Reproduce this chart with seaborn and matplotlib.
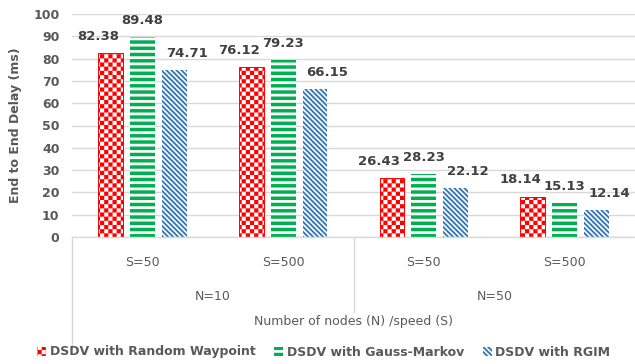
import numpy as np
import pandas as pd
import matplotlib
matplotlib.use("Agg")
import matplotlib.pyplot as plt
import matplotlib.hatch as mhatch
from matplotlib.path import Path
from matplotlib.patches import Patch
from matplotlib.transforms import blended_transform_factory
import seaborn as sns

# ---- data ----
node_groups = ["N=10", "N=50"]
speed_labels = ["S=50", "S=500", "S=50", "S=500"]
models = ["DSDV with Random Waypoint", "DSDV with Gauss-Markov", "DSDV with RGIM"]
random_waypoint = [82.38, 76.12, 26.43, 18.14]
gauss_markov = [89.48, 79.23, 28.23, 15.13]
rgim = [74.71, 66.15, 22.12, 12.14]

colors = ["#FF0000", "#00B050", "#2E75B6"]
TEXT = "#595959"
VALUE_TEXT = "#404040"
GRID = "#D9D9D9"


def _square(vertices, codes, k, pts):
    vertices[5 * k:5 * k + 5] = pts + [pts[0]]
    codes[5 * k] = Path.MOVETO
    codes[5 * k + 1:5 * k + 4] = Path.LINETO
    codes[5 * k + 4] = Path.CLOSEPOLY


# ---- filled hatch patterns (checkerboard, horizontal bands, diagonal bands) ----
class CheckerHatch:
    def __init__(self, hatch, density):
        self.n = 24 * hatch.count("O")
        self.cells = [(i, j) for i in range(self.n) for j in range(self.n)
                      if (i + j) % 2 == 0]
        self.num_vertices = 5 * len(self.cells)

    def set_vertices_and_codes(self, vertices, codes):
        s = 1.0 / self.n
        for k, (i, j) in enumerate(self.cells):
            x0, y0 = i * s, j * s
            _square(vertices, codes, k,
                    [(x0, y0), (x0 + s, y0), (x0 + s, y0 + s), (x0, y0 + s)])


class BandHatch:
    def __init__(self, hatch, density):
        self.n = 16 * hatch.count("o")
        self.num_vertices = 5 * self.n

    def set_vertices_and_codes(self, vertices, codes):
        p = 1.0 / self.n
        h = 0.55 * p
        for k in range(self.n):
            y0 = k * p
            _square(vertices, codes, k, [(0, y0), (1, y0), (1, y0 + h), (0, y0 + h)])


class DiagonalBandHatch:
    def __init__(self, hatch, density):
        self.n = 20 * hatch.count("*")
        self.ks = list(range(-self.n - 2, 3 * self.n + 3)) if self.n else []
        self.num_vertices = 5 * len(self.ks)

    def set_vertices_and_codes(self, vertices, codes):
        p = 1.0 / self.n
        w = 0.5 * p
        x0, x1 = -1.0, 2.0
        for m, k in enumerate(self.ks):
            c = k * p
            _square(vertices, codes, m,
                    [(x0, c - x0), (x1, c - x1), (x1, c + w - x1), (x0, c + w - x0)])


mhatch._hatch_types = [mhatch.HorizontalHatch, mhatch.VerticalHatch,
                       mhatch.NorthEastHatch, mhatch.SouthEastHatch,
                       CheckerHatch, BandHatch, DiagonalBandHatch]
hatches = ["O", "o", "*"]

# ---- figure ----
sns.set_theme(style="white")
plt.rcParams["font.family"] = ["DejaVu Sans"]
plt.rcParams["hatch.linewidth"] = 0.05

fig = plt.figure(figsize=(6.35, 3.64), dpi=100)
ax = fig.add_axes([72 / 635, 1 - 237 / 364, 1 - 72 / 635, (237 - 14) / 364])

keys = [f"{n} {s}" for n in node_groups for s in speed_labels[:2]]
df = pd.DataFrame({
    "group": keys * 3,
    "model": np.repeat(models, 4),
    "delay": random_waypoint + gauss_markov + rgim,
})

sns.barplot(data=df, x="group", y="delay", hue="model", order=keys,
            hue_order=models, palette=colors, width=0.68, gap=0.22,
            ax=ax, legend=False, saturation=1)

label_dx = [-9, 0, 9]  # horizontal nudge of value labels, in points
for cont, col, hat, dx in zip(ax.containers, colors, hatches, label_dx):
    for bar in cont:
        bar.set_facecolor("white")
        bar.set_edgecolor(col)
        bar.set_hatch(hat)
        bar.set_linewidth(0.7 if hat == "O" else 0)
    for bar, val in zip(cont, cont.datavalues):
        ax.annotate(f"{val:.2f}", xy=(bar.get_x() + bar.get_width() / 2, val),
                    xytext=(dx, 12), textcoords="offset points",
                    ha="center", va="center", fontsize=9.5, fontweight="bold",
                    color=VALUE_TEXT, annotation_clip=False)

# ---- axes styling ----
ax.set_ylim(0, 100)
ax.set_xlim(-0.5, 3.5)
ax.set_yticks(np.arange(0, 101, 10))
ax.yaxis.grid(True, color=GRID, linewidth=1.0)
ax.set_axisbelow(True)
for side in ["left", "right", "top"]:
    ax.spines[side].set_visible(False)
ax.spines["bottom"].set_color(GRID)
ax.spines["bottom"].set_linewidth(1.0)
ax.tick_params(axis="y", length=0, pad=9, labelsize=9, labelcolor=TEXT)
for t in ax.get_yticklabels():
    t.set_fontweight("bold")
ax.set_xticks(range(len(speed_labels)))
ax.set_xticklabels(speed_labels)
ax.tick_params(axis="x", length=0, pad=14, labelsize=9, labelcolor=TEXT)
ax.set_xlabel("")
ax.set_ylabel("End to End Delay (ms)", fontsize=9, fontweight="bold",
              color=TEXT, labelpad=8)

# multi-level category axis
tr = blended_transform_factory(ax.transData, fig.transFigure)
ax.plot([-0.5, -0.5], [1 - 237 / 364, 1 - 348 / 364], transform=tr,
        color=GRID, lw=1.0, clip_on=False)
ax.plot([1.5, 1.5], [1 - 237 / 364, 1 - 312 / 364], transform=tr,
        color=GRID, lw=1.0, clip_on=False)
for i, name in enumerate(node_groups):
    ax.text(2 * i + 0.5, 1 - 297 / 364, name, transform=tr, ha="center",
            va="center", fontsize=9, color=TEXT)
ax.text(0.5, 1 - 322 / 364, "Number of nodes (N) /speed (S)",
        transform=blended_transform_factory(ax.transAxes, fig.transFigure),
        ha="center", va="center", fontsize=9, color=TEXT)

# legend
handles = [Patch(facecolor="white", edgecolor=c, hatch=h, linewidth=0)
           for c, h in zip(colors, hatches)]
leg = fig.legend(handles, models, loc="center", bbox_to_anchor=(0.51, 1 - 352 / 364),
                 ncol=3, frameon=False, fontsize=9, handlelength=0.7,
                 handleheight=0.7, handletextpad=0.3, columnspacing=1.5,
                 borderaxespad=0, borderpad=0)
for t in leg.get_texts():
    t.set_color(TEXT)
    t.set_fontweight("bold")

fig.savefig("out.png", dpi=100)
